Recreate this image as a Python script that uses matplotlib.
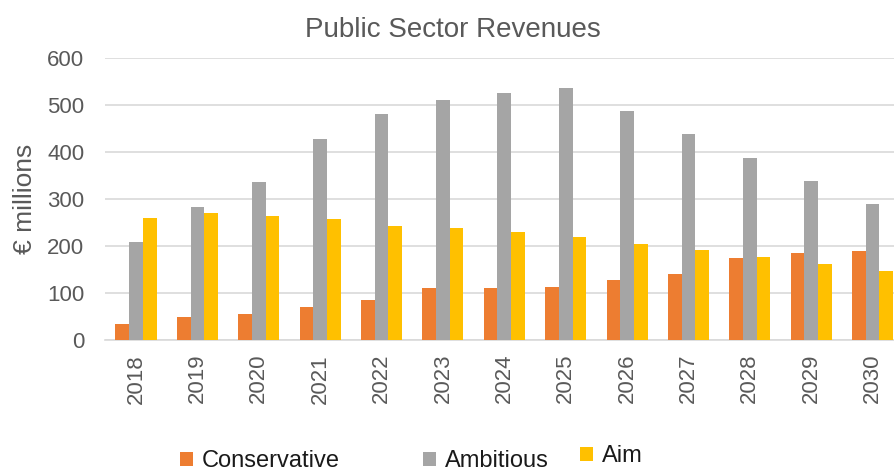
import matplotlib.pyplot as plt
import numpy as np

plt.rcParams['font.family'] = ['Liberation Sans', 'DejaVu Sans']

years = ['2018', '2019', '2020', '2021', '2022', '2023', '2024',
         '2025', '2026', '2027', '2028', '2029', '2030']
conservative = [34, 48, 55, 70, 84, 111, 111, 113, 128, 141, 174, 185, 190]
ambitious = [208, 283, 336, 428, 480, 511, 526, 536, 487, 437, 387, 338, 289]
aim = [259, 270, 263, 257, 243, 239, 230, 218, 205, 191, 177, 162, 147]

W, H = 894, 471
fig = plt.figure(figsize=(W / 100, H / 100), dpi=100)
# plot area runs slightly past the right edge of the canvas
ax = fig.add_axes([105.3 / W, 131 / H, 798 / W, 282.3 / H])

x = np.arange(len(years))
bw = 0.223
b1 = ax.bar(x - bw, conservative, bw, color='#ED7D31', label='Conservative', zorder=3)
b2 = ax.bar(x, ambitious, bw, color='#A5A5A5', label='Ambitious', zorder=3)
b3 = ax.bar(x + bw, aim, bw, color='#FFC000', label='Aim', zorder=3)

ax.set_xlim(-0.5, len(years) - 0.5)
ax.set_ylim(0, 600)
ax.set_yticks(range(0, 601, 100))
ax.set_xticks(x)
ax.set_xticklabels(years, rotation=90)
ax.yaxis.grid(True, color='#D9D9D9', linewidth=1.2, zorder=0)
for s in ['top', 'right', 'left']:
    ax.spines[s].set_visible(False)
ax.spines['bottom'].set_color('#D9D9D9')
ax.spines['bottom'].set_linewidth(1.2)
ax.tick_params(axis='y', length=0, pad=15, labelsize=16, labelcolor='#595959')
ax.tick_params(axis='x', length=0, pad=10, labelsize=16, labelcolor='#595959')

ax.set_ylabel('€ millions', fontsize=19, color='#595959')
ax.yaxis.set_label_coords((37 - 105.3) / 798, 0.5)

fig.text(453 / W, (H - 37) / H, 'Public Sector Revenues', ha='center',
         va='baseline', fontsize=20, color='#595959')

# legend entries placed individually along the bottom
legend_spots = [(b1, 'Conservative', 180, 461), (b2, 'Ambitious', 423, 461),
                (b3, 'Aim', 580, 456)]
for h, lab, px, py in legend_spots:
    fig.legend([h], [lab], loc='center left', bbox_to_anchor=(px / W, 1 - py / H),
               frameon=False, fontsize=17, handlelength=0.55, handleheight=0.55,
               handletextpad=0.37, borderpad=0, borderaxespad=0,
               labelcolor='#1a1a1a')

fig.savefig('out.png', dpi=100)
